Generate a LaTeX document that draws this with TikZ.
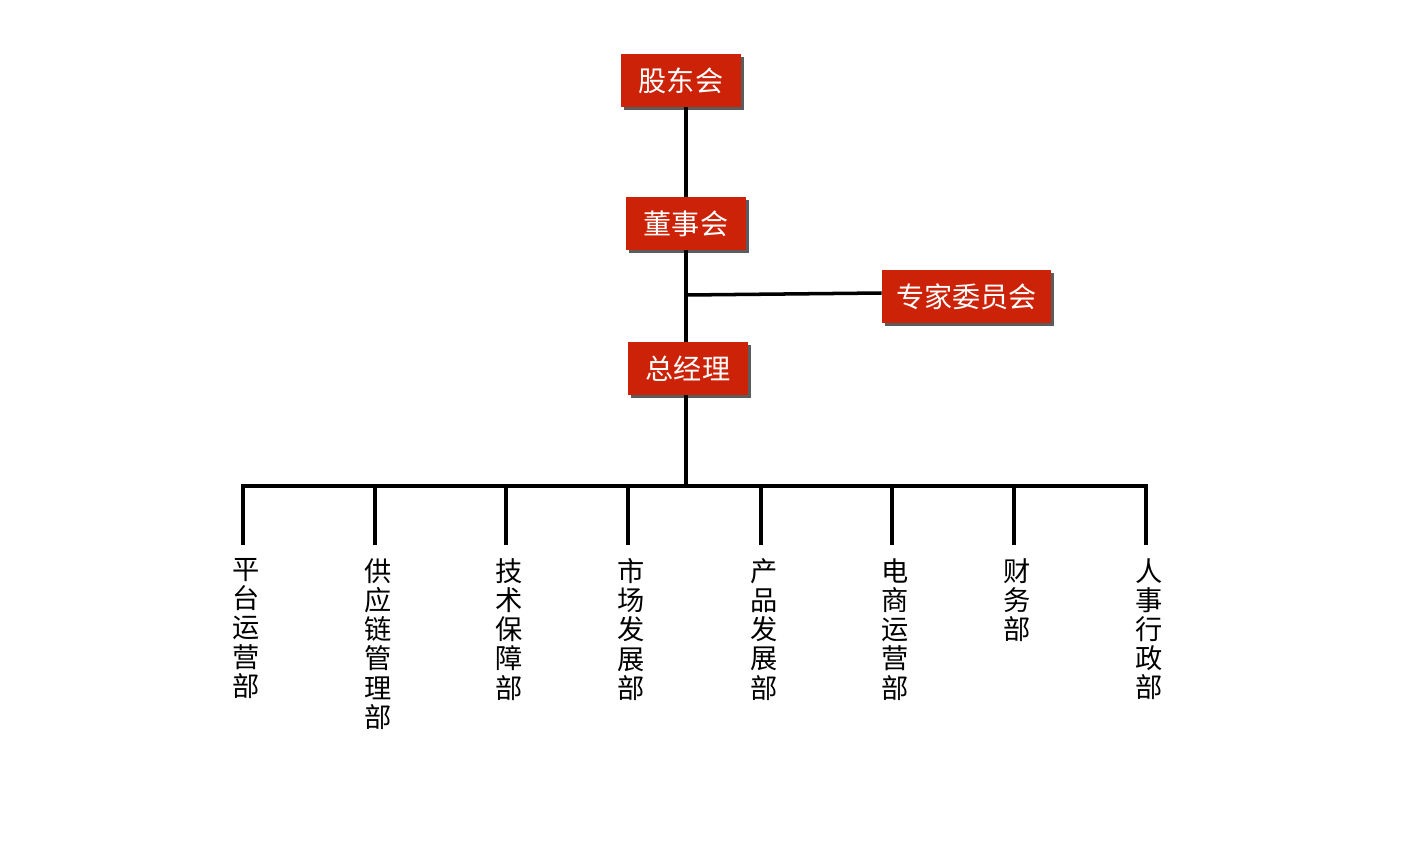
\documentclass[tikz,border=0pt]{standalone}
\usepackage{fontspec}
\setmainfont{Noto Sans CJK SC}
\usetikzlibrary{shadows}
\definecolor{boxred}{RGB}{204,34,8}
\begin{document}
\begin{tikzpicture}[x=0.02cm, y=-0.02cm,
    box/.style={fill=boxred, text=white, minimum width=2.4cm, minimum height=1.06cm,
      inner sep=2pt, font=\fontsize{16}{19}\selectfont,
      drop shadow={shadow xshift=0.06cm, shadow yshift=-0.06cm, opacity=0.85, fill=black!75}},
    dept/.style={align=center, anchor=north, inner xsep=0pt, inner ysep=7.5pt,
      font=\fontsize{15.5}{16.6}\selectfont},
    edge/.style={line width=2pt}
  ]
  \useasboundingbox (0,0) rectangle (1407,842);
  \node[box] (gd) at (681,80.5) {股东会};
  \node[box] (dsh) at (686,223.5) {董事会};
  \node[box, minimum width=3.38cm] (zj) at (966.5,296.5) {专家委员会};
  \node[box] (zjl) at (688,368.5) {总经理};
  \coordinate (jn) at (686,295);
  \coordinate (bar) at (686,486);
  \draw[edge] (gd.south -| bar) -- (dsh.north -| bar);
  \draw[edge] (dsh.south -| bar) -- (zjl.north -| bar);
  \draw[edge] (jn) -- ([yshift=0.07cm]zj.west);
  \draw[edge] (zjl.south -| bar) -- (bar);
  % departments
  \foreach \x/\t [count=\i] in {243/{平\\台\\运\\营\\部}, 375/{供\\应\\链\\管\\理\\部},
      506/{技\\术\\保\\障\\部}, 628/{市\\场\\发\\展\\部}, 761/{产\\品\\发\\展\\部},
      892/{电\\商\\运\\营\\部}, 1014/{财\\务\\部}, 1146/{人\\事\\行\\政\\部}} {
    \coordinate (top\i) at (\x,486);
    \node[dept] (d\i) at (\x+3,545) {\t};
    \draw[edge] (top\i) -- (top\i |- d\i.north);
  }
  \draw[edge] ([xshift=-1pt]top1) -- ([xshift=1pt]top8);
\end{tikzpicture}
\end{document}
